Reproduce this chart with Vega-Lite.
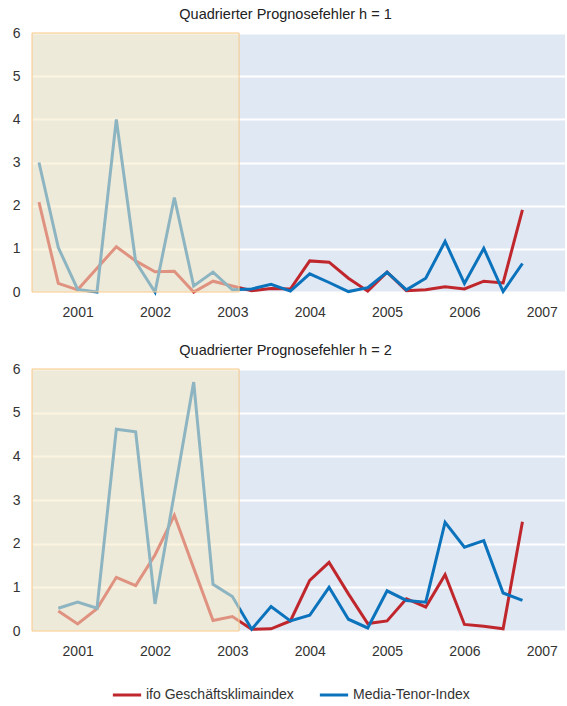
{
  "$schema": "https://vega.github.io/schema/vega-lite/v6.json",
  "padding": {"left": 12, "top": 6, "right": 0, "bottom": 0},
  "datasets": {
    "h1": [
      {"quartal": 2000.5, "ifo": 2.08, "mt": 3.0},
      {"quartal": 2000.75, "ifo": 0.2, "mt": 1.03},
      {"quartal": 2001.0, "ifo": 0.05, "mt": 0.06},
      {"quartal": 2001.25, "ifo": 0.55, "mt": 0.0},
      {"quartal": 2001.5, "ifo": 1.05, "mt": 4.0},
      {"quartal": 2001.75, "ifo": 0.72, "mt": 0.7},
      {"quartal": 2002.0, "ifo": 0.47, "mt": 0.0},
      {"quartal": 2002.25, "ifo": 0.48, "mt": 2.19},
      {"quartal": 2002.5, "ifo": 0.0, "mt": 0.14},
      {"quartal": 2002.75, "ifo": 0.25, "mt": 0.46},
      {"quartal": 2003.0, "ifo": 0.14, "mt": 0.05},
      {"quartal": 2003.25, "ifo": 0.03, "mt": 0.07},
      {"quartal": 2003.5, "ifo": 0.08, "mt": 0.18},
      {"quartal": 2003.75, "ifo": 0.07, "mt": 0.02},
      {"quartal": 2004.0, "ifo": 0.72, "mt": 0.42},
      {"quartal": 2004.25, "ifo": 0.69, "mt": 0.22},
      {"quartal": 2004.5, "ifo": 0.32, "mt": 0.01},
      {"quartal": 2004.75, "ifo": 0.02, "mt": 0.1},
      {"quartal": 2005.0, "ifo": 0.46, "mt": 0.46},
      {"quartal": 2005.25, "ifo": 0.03, "mt": 0.05},
      {"quartal": 2005.5, "ifo": 0.05, "mt": 0.32},
      {"quartal": 2005.75, "ifo": 0.12, "mt": 1.17},
      {"quartal": 2006.0, "ifo": 0.07, "mt": 0.2},
      {"quartal": 2006.25, "ifo": 0.25, "mt": 1.01},
      {"quartal": 2006.5, "ifo": 0.21, "mt": 0.01},
      {"quartal": 2006.75, "ifo": 1.9, "mt": 0.66}
    ],
    "h2": [
      {"quartal": 2000.75, "ifo": 0.46, "mt": 0.52},
      {"quartal": 2001.0, "ifo": 0.16, "mt": 0.66},
      {"quartal": 2001.25, "ifo": 0.51, "mt": 0.52},
      {"quartal": 2001.5, "ifo": 1.23, "mt": 4.62},
      {"quartal": 2001.75, "ifo": 1.04, "mt": 4.56},
      {"quartal": 2002.0, "ifo": 1.74, "mt": 0.62},
      {"quartal": 2002.25, "ifo": 2.65, "mt": 3.15},
      {"quartal": 2002.5, "ifo": 1.44, "mt": 5.7},
      {"quartal": 2002.75, "ifo": 0.24, "mt": 1.07},
      {"quartal": 2003.0, "ifo": 0.33, "mt": 0.79},
      {"quartal": 2003.25, "ifo": 0.04, "mt": 0.04},
      {"quartal": 2003.5, "ifo": 0.05, "mt": 0.56},
      {"quartal": 2003.75, "ifo": 0.23, "mt": 0.23},
      {"quartal": 2004.0, "ifo": 1.16, "mt": 0.36},
      {"quartal": 2004.25, "ifo": 1.57, "mt": 1.0},
      {"quartal": 2004.5, "ifo": 0.85, "mt": 0.27},
      {"quartal": 2004.75, "ifo": 0.17, "mt": 0.07},
      {"quartal": 2005.0, "ifo": 0.23, "mt": 0.92},
      {"quartal": 2005.25, "ifo": 0.74, "mt": 0.7},
      {"quartal": 2005.5, "ifo": 0.55, "mt": 0.66},
      {"quartal": 2005.75, "ifo": 1.29, "mt": 2.49},
      {"quartal": 2006.0, "ifo": 0.15, "mt": 1.92},
      {"quartal": 2006.25, "ifo": 0.11, "mt": 2.07},
      {"quartal": 2006.5, "ifo": 0.05, "mt": 0.87},
      {"quartal": 2006.75, "ifo": 2.5, "mt": 0.7}
    ],
    "zone": [
      {"von": 2000.41, "bis": 2003.087, "unten": 0, "oben": 6}
    ]
  },
  "vconcat": [
    {
      "width": 533,
      "height": 259,
      "title": "Quadrierter Prognosefehler h = 1",
      "layer": [
        {
          "data": {"name": "h1"},
          "transform": [{"fold": ["ifo", "mt"], "as": ["reihe", "wert"]}],
          "mark": {"type": "line", "strokeWidth": 3},
          "encoding": {
            "x": {"field": "quartal", "type": "quantitative", "scale": {"domain": [2000.41, 2007.3], "nice": false, "zero": false},
                  "axis": {"values": [2001, 2002, 2003, 2004, 2005, 2006, 2007], "format": "d"}},
            "y": {"field": "wert", "type": "quantitative", "scale": {"domain": [0, 6], "nice": false},
                  "axis": {"values": [0, 1, 2, 3, 4, 5, 6]}},
            "color": {"field": "reihe", "type": "nominal", "scale": {"domain": ["ifo", "mt"], "range": ["#c0272d", "#0b72bc"]},
                      "legend": {"orient": "none", "direction": "horizontal", "title": null, "legendX": 79, "legendY": 646,
                                 "labelExpr": "datum.value == 'ifo' ? 'ifo Geschäftsklimaindex' : 'Media-Tenor-Index'"}}
          }
        },
        {
          "data": {"name": "zone"},
          "mark": {"type": "rect", "fill": "#faebc4", "fillOpacity": 0.55, "stroke": "#f8c88a", "strokeWidth": 1},
          "encoding": {
            "x": {"field": "von", "type": "quantitative"},
            "x2": {"field": "bis"},
            "y": {"field": "unten", "type": "quantitative"},
            "y2": {"field": "oben"}
          }
        }
      ]
    },
    {
      "width": 533,
      "height": 262,
      "title": "Quadrierter Prognosefehler h = 2",
      "layer": [
        {
          "data": {"name": "h2"},
          "transform": [{"fold": ["ifo", "mt"], "as": ["reihe", "wert"]}],
          "mark": {"type": "line", "strokeWidth": 3},
          "encoding": {
            "x": {"field": "quartal", "type": "quantitative", "scale": {"domain": [2000.41, 2007.3], "nice": false, "zero": false},
                  "axis": {"values": [2001, 2002, 2003, 2004, 2005, 2006, 2007], "format": "d"}},
            "y": {"field": "wert", "type": "quantitative", "scale": {"domain": [0, 6], "nice": false},
                  "axis": {"values": [0, 1, 2, 3, 4, 5, 6]}},
            "color": {"field": "reihe", "type": "nominal"}
          }
        },
        {
          "data": {"name": "zone"},
          "mark": {"type": "rect", "fill": "#faebc4", "fillOpacity": 0.55, "stroke": "#f8c88a", "strokeWidth": 1},
          "encoding": {
            "x": {"field": "von", "type": "quantitative"},
            "x2": {"field": "bis"},
            "y": {"field": "unten", "type": "quantitative"},
            "y2": {"field": "oben"}
          }
        }
      ]
    }
  ],
  "spacing": 23,
  "resolve": {"scale": {"color": "shared"}},
  "config": {
    "font": "Liberation Sans",
    "view": {"fill": "#e0e8f4", "stroke": null},
    "title": {"fontSize": 14.5, "fontWeight": "normal", "color": "#222222", "offset": 4, "dx": -13},
    "axisX": {
      "grid": false, "domain": false, "ticks": false,
      "labelPadding": 13, "labelFontSize": 14, "labelColor": "#333333", "title": null
    },
    "axisY": {
      "grid": true, "gridColor": "#ffffff", "gridWidth": 2, "domain": false, "ticks": false,
      "labelPadding": 12, "labelFontSize": 14, "labelColor": "#333333", "title": null
    },
    "legend": {
      "symbolType": "stroke", "symbolSize": 800, "symbolStrokeWidth": 3,
      "labelFontSize": 14, "labelColor": "#333333", "labelOffset": 3, "columnPadding": 19
    }
  }
}
